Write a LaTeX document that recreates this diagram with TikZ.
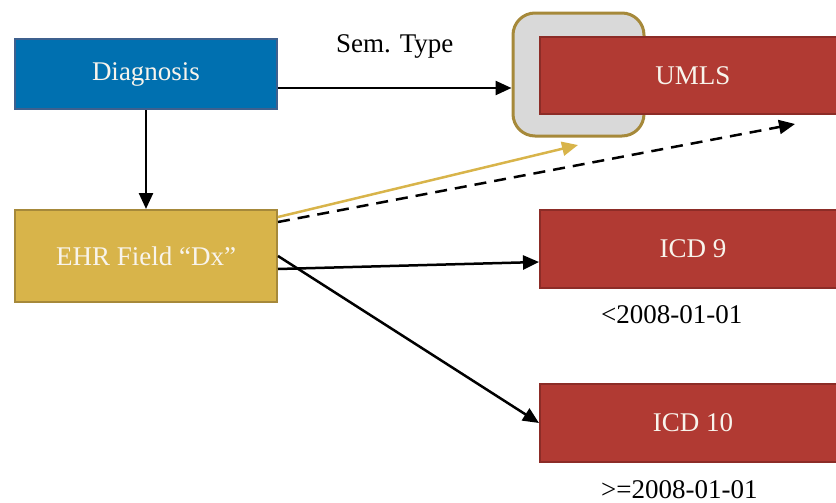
\documentclass[tikz,border=0pt]{standalone}
\usepackage{fontspec}
\setmainfont{Liberation Serif}
\usetikzlibrary{arrows.meta}
\definecolor{dxblue}{RGB}{0,112,176}
\definecolor{dxblueline}{RGB}{62,96,142}
\definecolor{ehrgold}{RGB}{216,180,74}
\definecolor{ehrgoldline}{RGB}{166,137,58}
\definecolor{vocred}{RGB}{177,58,51}
\definecolor{vocredline}{RGB}{140,44,39}
\definecolor{hullgray}{RGB}{217,217,217}
\definecolor{boxtext}{RGB}{248,244,236}

\begin{document}
\begin{tikzpicture}[x=0.5pt,y=-0.5pt,font=\fontsize{13.5}{16}\selectfont,
    box/.style={draw,line width=1pt,text=boxtext,minimum width=131pt,minimum height=35pt},
    vocab/.style={box,fill=vocred,draw=vocredline,minimum width=153pt,minimum height=38.5pt},
    conn/.style={line width=1.25pt,-{Triangle[length=8pt,width=7pt]}}]
    \clip (0,0) rectangle (836,503);
    \node[box,fill=dxblue,draw=dxblueline,minimum height=35pt] (dx) at (146,74) {Diagnosis};
    \node[box,fill=ehrgold,draw=ehrgoldline,minimum height=46pt] (ehr) at (146,256) {EHR Field “Dx”};
    \node[draw=ehrgoldline,fill=hullgray,line width=1.5pt,rounded corners=11pt,minimum width=65.5pt,minimum height=61.5pt] (semhull) at (578.5,74.5) {};
    \node[vocab] (umls) at (693,75.5) {UMLS};
    \node[vocab,minimum height=39pt] (icd9) at (693,249) {ICD 9};
    \node[vocab,minimum height=39pt] (icd10) at (693,423) {ICD 10};
    \node[anchor=west] (before) at (594,315) {<2008-01-01};
    \node[anchor=west] (after) at (594,490) {>=2008-01-01};
    \coordinate (goldtip) at (578,145);
    \coordinate (dashtip) at (795,124);
    \draw[conn] ([yshift=-7pt]dx.east) -- ([yshift=-7pt]dx.east -| semhull.west) node[midway,above=11pt] (semtype) {Sem. Type};
    \draw[conn] (dx.south) -- (ehr.north);
    \draw[conn,ehrgold] ([yshift=-4pt]ehr.north east) -- (goldtip);
    \draw[conn,dash pattern=on 6pt off 4pt] ([yshift=-6.5pt]ehr.north east) -- (dashtip);
    \draw[conn] ([yshift=-6.5pt]ehr.east) -- ([yshift=-6.5pt]icd9.west);
    \draw[conn] (ehr.east) -- (icd10.west);
\end{tikzpicture}
\end{document}
